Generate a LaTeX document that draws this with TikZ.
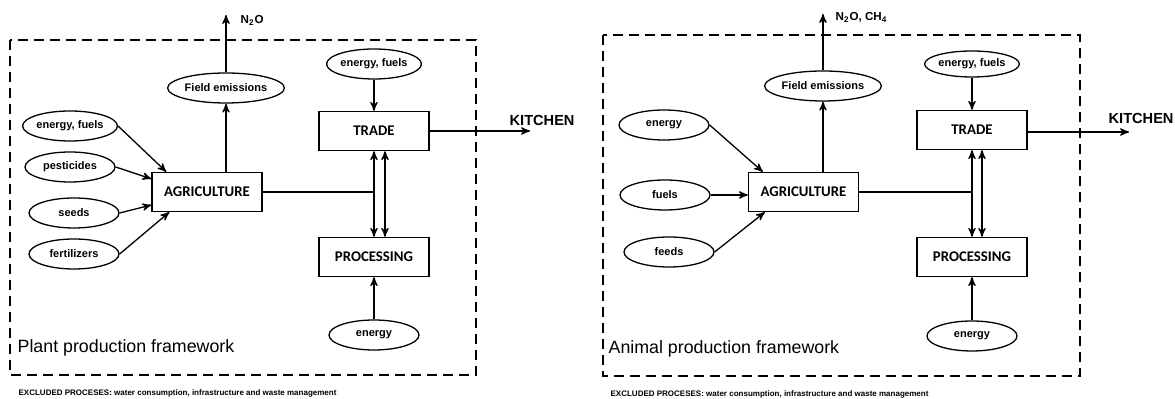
\documentclass[tikz,border=0pt]{standalone}
\usepackage{fontspec}
\setmainfont{Liberation Sans}
\newfontfamily\boxfont{Carlito}
\usetikzlibrary{arrows,shapes.geometric}
\usetikzlibrary{positioning}

\begin{document}
\begin{tikzpicture}[x=0.5pt,y=0.5pt,>=stealth',line width=0.65pt,on grid,
  proc/.style={draw,rectangle,minimum width=55pt,minimum height=19.5pt,inner sep=0pt,font=\boxfont\bfseries\fontsize{7.4}{9}\selectfont},
  inp/.style={draw,ellipse,minimum width=45pt,minimum height=15pt,inner sep=0pt,font=\bfseries\fontsize{5.5}{6.5}\selectfont},
  txt/.style={anchor=west,inner sep=0pt}]
            \useasboundingbox (0,0) rectangle (1175,-399);
            \tikzset{frame/.style={line width=1pt,dash pattern=on 5pt off 3pt}}
            \draw[frame] (10,-40) rectangle (476,-375);
            \node[proc]              (a)                  at (207,-192)  {AGRICULTURE};
            \node[proc]              (t)                  at (374,-131)  {TRADE};
            \node[proc]              (p) [below =63pt of t]              {PROCESSING};
            \node[inp]               (f)                  at (226,-88)   {Field emissions};
            \node[inp]               (e1) [above =33.5pt of t]           {energy, fuels};
            \node[inp]               (e2) [below =39pt of p]             {energy};
            \node[inp]               (i1)                 at (70,-126)   {energy, fuels};
            \node[inp]               (i2)                 at (70,-167)   {pesticides};
            \node[inp]               (i3)                 at (74,-213)   {seeds};
            \node[inp]               (i4)                 at (74,-254)   {fertilizers};
            \node[txt,font=\bfseries\fontsize{5.8}{7}\selectfont] (n) at (240,-20) {N\textsubscript{2}O};
            \node[txt,font=\bfseries\fontsize{7.3}{9}\selectfont] (k) at (509,-120) {KITCHEN};
            \node[txt,font=\fontsize{8.9}{11}\selectfont] (l) at (17,-348) {Plant production framework};
            \node[txt,font=\bfseries\fontsize{4}{5}\selectfont] (x) at (18,-393) {EXCLUDED PROCESES: water consumption, infrastructure and waste management};
            \coordinate (up) at (226,-15);
            \coordinate (out) at (530,-131);
            \coordinate (j) at (374,-192);
            \draw[->] (i1.east) -- ([xshift=7.5pt]a.north west);
            \draw[->] (i2.east) -- ([yshift=-3.5pt]a.north west);
            \draw[->] (i3.east) -- ([yshift=-6.5pt]a.west);
            \draw[->] (i4.east) -- ([xshift=9pt]a.south west);
            \draw[->] (f |- a.north) -- (f.south);
            \draw[->] (f.north) -- (up);
            \draw (a.east) -- (j);
            \draw[->] (j) -- (t.south);
            \draw[->] (j) -- (p.north);
            \draw[<->] ([xshift=5.5pt]t.south) -- ([xshift=5.5pt]p.north);
            \draw[->] (e1) -- (t);
            \draw[->] (e2) -- (p);
            \draw[->] (t.east) -- (out);

            \draw[frame] (603,-35) rectangle (1080,-376);
            \node[proc]              (a2)                 at (803.5,-192) {AGRICULTURE};
            \node[proc]              (t2)                 at (972,-130)  {TRADE};
            \node[proc]              (p2) [below =63.5pt of t2]          {PROCESSING};
            \node[inp]               (f2)                 at (823,-86)   {Field emissions};
            \node[inp,minimum height=13pt] (e3) [above =33pt of t2]      {energy, fuels};
            \node[inp]               (e4) [below =39.5pt of p2]          {energy};
            \node[inp]               (j1)                 at (664,-125)  {energy};
            \node[inp]               (j2)                 at (665,-195)  {fuels};
            \node[inp]               (j3)                 at (669,-252)  {feeds};
            \node[txt,font=\bfseries\fontsize{5.8}{7}\selectfont] (n2) at (835,-17) {N\textsubscript{2}O, CH\textsubscript{4}};
            \node[txt,font=\bfseries\fontsize{7.3}{9}\selectfont] (k2) at (1108,-118) {KITCHEN};
            \node[txt,font=\fontsize{8.9}{11}\selectfont] (l2) at (608,-349) {Animal production framework};
            \node[txt,font=\bfseries\fontsize{4}{5}\selectfont] (x2) at (610,-394) {EXCLUDED PROCESES: water consumption, infrastructure and waste management};
            \coordinate (up2) at (823,-14);
            \coordinate (out2) at (1129,-132);
            \coordinate (jj) at (972,-192);
            \draw[->] (j1.east) -- ([xshift=7.5pt]a2.north west);
            \draw[->] (j2.east) -- (a2.west |- j2.east);
            \draw[->] (j3.east) -- ([xshift=8.5pt]a2.south west);
            \draw[->] (f2 |- a2.north) -- (f2.south);
            \draw[->] (f2.north) -- (up2);
            \draw (a2.east) -- (jj);
            \draw[->] (jj) -- (t2.south);
            \draw[->] (jj) -- (p2.north);
            \draw[<->] ([xshift=5pt]t2.south) -- ([xshift=5pt]p2.north);
            \draw[->] (e3) -- (t2);
            \draw[->] (e4) -- (p2);
            \draw[->] (t2.east |- out2) -- (out2);
\end{tikzpicture}
\end{document}
